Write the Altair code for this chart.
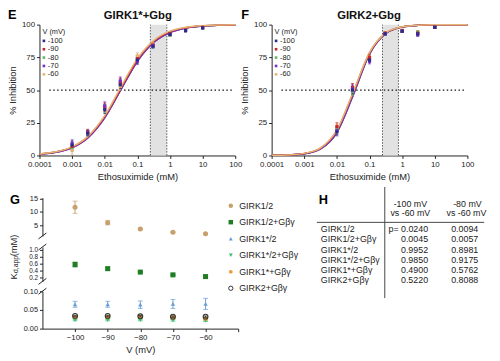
import altair as alt
import pandas as pd

W, H = 492, 353
FONT = "Liberation Sans"
INK = "#222222"

# ---------------- panels E / F data ----------------
volts = ["-100", "-90", "-80", "-70", "-60"]
volt_colors = ["#2b2b8c", "#c9252b", "#62b562", "#7a30c6", "#e5b476"]

conc_E = [0.001, 0.003, 0.01, 0.03, 0.1, 0.3, 1, 3, 10]
E_m100 = [8, 17, 35, 54, 73, 83.5, 92.5, 95.5, 97.5]
E_m90 = [7, 18, 37, 56, 74, 84.5, 93, 96, 98]
E_m80 = [6, 17, 36, 55, 74, 84, 92, 95.5, 97.5]
E_m70 = [9, 17.5, 38, 57, 72, 84, 92.5, 95.5, 97.5]
E_m60 = [4, 17, 36, 53, 76, 85, 92.5, 96, 98]
E_err = [3, 2, 3, 3, 2.5, 1.5, 1, 1, 0.5]

conc_F = [0.01, 0.03, 0.1, 0.3, 1, 3, 10]
F_m100 = [18, 50, 73, 93, 95, 93, 98]
F_m90 = [22, 52, 75, 93.5, 95.5, 93.5, 98]
F_m80 = [20, 49, 74, 93, 95, 94, 98]
F_m70 = [19, 51, 72, 93, 95, 92.5, 98]
F_m60 = [21, 50, 75, 93.5, 95.5, 94, 98]
F_err = [3, 3, 2, 1, 1, 1.5, 0.5]

curve_x = [1e-4, 3.16e-4, 1e-3, 3.16e-3, 0.01, 0.0316, 0.1, 0.316, 1, 3.16, 10, 31.6, 100]
E_fit_m100 = [1.0, 2.5, 6.0, 14.0, 29.0, 50.5, 72.0, 86.5, 94.0, 97.5, 99.0, 99.6, 99.8]
E_fit_m90 = [1.1, 2.7, 6.4, 14.6, 29.8, 51.5, 73.0, 87.3, 94.6, 97.8, 99.1, 99.6, 99.8]
E_fit_m80 = [1.0, 2.6, 6.2, 14.2, 29.3, 51.0, 72.4, 86.8, 94.3, 97.6, 99.0, 99.6, 99.8]
E_fit_m70 = [0.9, 2.4, 5.9, 13.8, 28.8, 50.5, 72.0, 86.4, 94.0, 97.5, 98.9, 99.5, 99.8]
E_fit_m60 = [1.2, 2.8, 6.6, 15.0, 30.5, 52.5, 74.0, 87.8, 95.0, 98.0, 99.2, 99.7, 99.9]

F_fit_m100 = [0.1, 0.3, 1.3, 5.0, 17.5, 46.0, 77.5, 93.2, 98.2, 99.5, 99.9, 100, 100]
F_fit_m90 = [0.1, 0.4, 1.5, 5.6, 19.0, 48.0, 78.5, 93.5, 98.3, 99.5, 99.9, 100, 100]
F_fit_m80 = [0.1, 0.35, 1.4, 5.3, 18.2, 46.9, 77.9, 93.3, 98.2, 99.5, 99.9, 100, 100]
F_fit_m70 = [0.1, 0.33, 1.35, 5.1, 17.8, 46.5, 77.6, 93.2, 98.2, 99.5, 99.9, 100, 100]
F_fit_m60 = [0.12, 0.4, 1.6, 5.8, 19.5, 48.5, 78.8, 93.7, 98.4, 99.6, 99.9, 100, 100]

shade_E = [0.25, 0.8]
shade_F = [0.25, 0.77]
x_ticks_EF = [1e-4, 1e-3, 0.01, 0.1, 1, 10, 100]
y_ticks_EF = [0, 25, 50, 75, 100]

# ---------------- panel G data ----------------
g_volts = [-100, -90, -80, -70, -60]
g_names = ["GIRK1/2", "GIRK1/2+Gβγ", "GIRK1*/2", "GIRK1*/2+Gβγ", "GIRK1*+Gβγ", "GIRK2+Gβγ"]
kd_GIRK12 = [11.8, 6.0, 3.6, 2.4, 1.8]
kd_GIRK12_err = [2.3, 0.8, 0.3, 0.15, 0.15]
kd_GIRK12_G = [0.57, 0.45, 0.35, 0.27, 0.22]
kd_GIRK12_G_err = [0.07, 0.04, 0.02, 0.02, 0.02]
kd_GIRK1s2 = [0.065, 0.065, 0.064, 0.066, 0.066]
kd_GIRK1s2_err = [0.008, 0.008, 0.010, 0.012, 0.015]
kd_GIRK1s2_G = [0.023, 0.023, 0.023, 0.022, 0.021]
kd_GIRK1s2_G_err = [0.002, 0.002, 0.002, 0.002, 0.002]
kd_GIRK1s_G = [0.031, 0.031, 0.031, 0.030, 0.027]
kd_GIRK1s_G_err = [0.004, 0.004, 0.004, 0.004, 0.004]
kd_GIRK2_G = [0.034, 0.034, 0.033, 0.032, 0.032]
kd_GIRK2_G_err = [0.002, 0.002, 0.002, 0.002, 0.002]

# ---------------- panel H data ----------------
p_100_vs_60 = ["0.0240", "0.0045", "0.9952", "0.9850", "0.4900", "0.5220"]
p_80_vs_60 = ["0.0094", "0.0057", "0.8981", "0.9175", "0.5762", "0.8088"]

# ---------------- helpers ----------------
AX = dict(grid=False, tickSize=3, titleFontSize=9.5, titleFontWeight="normal",
          labelFont=FONT, titleFont=FONT, domainColor=INK, tickColor=INK, labelColor=INK,
          titleColor=INK, labelPadding=2, labelOverlap=False)


def txt(s, x, y, size=9, weight="normal", align="left", angle=0, color=INK):
    return alt.Chart(pd.DataFrame({"t": [s]})).mark_text(
        font=FONT, fontSize=size, fontWeight=weight, align=align, baseline="middle",
        angle=angle, color=color).encode(x=alt.value(x), y=alt.value(y), text="t:N")


EF_Y = [147, 14]


def ef_panel(X, conc, means, err, fits, shade, title, title_x, leg_x):
    xsc = alt.Scale(type="log", domain=[1e-4, 100], range=X, nice=False)
    ysc = alt.Scale(domain=[0, 100], range=EF_Y, nice=False, zero=False)
    col = alt.Color("v:N", scale=alt.Scale(domain=volts, range=volt_colors), legend=None)
    xax = alt.Axis(orient="bottom", offset=EF_Y[0] - H, values=x_ticks_EF,
                   labelExpr="format(datum.value, '~g')", title="Ethosuximide (mM)",
                   labelFlush=False, titlePadding=3, labelFontSize=8, **AX)
    yax = alt.Axis(orient="left", offset=-X[0], values=y_ticks_EF, title="% Inhibition",
                   titlePadding=4, labelFontSize=8, **AX)
    L = []
    sdf = pd.DataFrame({"a": [shade[0]], "b": [shade[1]], "y0": [0], "y1": [100]})
    L.append(alt.Chart(sdf).mark_rect(color="#e2e2e2").encode(
        x=alt.X("a:Q", scale=xsc, axis=xax), x2="b:Q",
        y=alt.Y("y0:Q", scale=ysc, axis=yax), y2="y1:Q"))
    vdf = pd.DataFrame({"a": shade, "y0": [0, 0], "y1": [100, 100]})
    L.append(alt.Chart(vdf).mark_rule(color="#555555", strokeDash=[1.5, 1.5], strokeWidth=1).encode(
        x=alt.X("a:Q", scale=xsc, axis=None), y=alt.Y("y0:Q", scale=ysc, axis=None), y2="y1:Q"))
    hdf = pd.DataFrame({"a": [0.0002], "b": [85], "y": [50]})
    L.append(alt.Chart(hdf).mark_rule(color="#111111", strokeDash=[1.5, 2.5], strokeWidth=1.3).encode(
        x=alt.X("a:Q", scale=xsc, axis=None), x2="b:Q", y=alt.Y("y:Q", scale=ysc, axis=None)))
    order = [0, 2, 3, 1, 4]
    crows = []
    for k, i in enumerate(order):
        for c, val in zip(curve_x, fits[i]):
            crows.append({"v": volts[i], "c": c, "m": val, "o": k})
    cdf = pd.DataFrame(crows)
    L.append(alt.Chart(cdf).mark_line(interpolate="monotone", strokeWidth=1.5).encode(
        x=alt.X("c:Q", scale=xsc, axis=None), y=alt.Y("m:Q", scale=ysc, axis=None),
        color=col, detail="v:N"))
    prow = []
    crow = []
    for i in [4, 2, 1, 3, 0]:
        for c, m, e in zip(conc, means[i], err):
            prow.append({"v": volts[i], "c": c, "m": m, "lo": m - e, "hi": m + e})
            crow.append({"v": volts[i], "c": c, "y": m - e})
            crow.append({"v": volts[i], "c": c, "y": m + e})
    pdf = pd.DataFrame(prow)
    capdf = pd.DataFrame(crow)
    L.append(alt.Chart(pdf).mark_rule(strokeWidth=1).encode(
        x=alt.X("c:Q", scale=xsc, axis=None), y=alt.Y("lo:Q", scale=ysc, axis=None), y2="hi:Q",
        color=col))
    L.append(alt.Chart(capdf).mark_tick(orient="horizontal", size=3, thickness=1).encode(
        x=alt.X("c:Q", scale=xsc, axis=None), y=alt.Y("y:Q", scale=ysc, axis=None), color=col))
    L.append(alt.Chart(pdf).mark_square(size=10, opacity=1).encode(
        x=alt.X("c:Q", scale=xsc, axis=None), y=alt.Y("m:Q", scale=ysc, axis=None), color=col))
    L.append(txt(title, title_x, 5, size=11.5, weight="bold", align="center", color="#111"))
    ldf = pd.DataFrame({"v": volts, "i": list(range(len(volts)))})
    lsc = alt.Scale(domain=[0, 4], range=[30.5, 64.5])
    L.append(txt("V (mV)", leg_x, 22, size=7.5))
    L.append(alt.Chart(ldf).mark_square(size=7, opacity=1).encode(
        x=alt.value(leg_x + 1.5), y=alt.Y("i:Q", scale=lsc, axis=None), color=col))
    L.append(alt.Chart(ldf).mark_text(font=FONT, fontSize=7.5, align="left", baseline="middle",
                                      color=INK).encode(
        x=alt.value(leg_x + 5.5), y=alt.Y("i:Q", scale=lsc, axis=None), text="v:N"))
    return L


layers = []
layers += ef_panel([32, 231], conc_E, [E_m100, E_m90, E_m80, E_m70, E_m60], E_err,
                   [E_fit_m100, E_fit_m90, E_fit_m80, E_fit_m70, E_fit_m60], shade_E,
                   "GIRK1*+Gbg", 132, 35)
layers += ef_panel([268, 467], conc_F, [F_m100, F_m90, F_m80, F_m70, F_m60], F_err,
                   [F_fit_m100, F_fit_m90, F_fit_m80, F_fit_m70, F_fit_m60], shade_F,
                   "GIRK2+Gbg", 367, 271)

# ---------------- panel G ----------------
gx_range = [35, 234]
segs = {
    "top": dict(domain=[1, 15.4], range=[228.8, 189.9], values=[5, 10, 15], fmt="d", slash=1.1, fs=7.5),
    "mid": dict(domain=[0.08, 1.08], range=[275, 240], values=[0.2, 0.4, 0.6, 0.8, 1.0], fmt=".1f", slash=0.086, fs=6.5),
    "bot": dict(domain=[0, 0.1], range=[323, 285], values=[0, 0.05, 0.1], fmt=".2f", slash=0.008, fs=7.5),
}
g_series = [
    ("GIRK1/2", kd_GIRK12, kd_GIRK12_err),
    ("GIRK1/2+Gβγ", kd_GIRK12_G, kd_GIRK12_G_err),
    ("GIRK1*/2+Gβγ", kd_GIRK1s2_G, kd_GIRK1s2_G_err),
    ("GIRK1*+Gβγ", kd_GIRK1s_G, kd_GIRK1s_G_err),
    ("GIRK2+Gβγ", kd_GIRK2_G, kd_GIRK2_G_err),
    ("GIRK1*/2", kd_GIRK1s2, kd_GIRK1s2_err),
]
g_style = {
    "GIRK1/2": dict(shape="circle", color="#c8a06e", filled=True, size=26, seg="top"),
    "GIRK1/2+Gβγ": dict(shape="square", color="#1f7d24", filled=True, size=26, seg="mid"),
    "GIRK1*/2": dict(shape="triangle-up", color="#6a9fd6", filled=True, size=20, seg="bot"),
    "GIRK1*/2+Gβγ": dict(shape="triangle-down", color="#3cbf7a", filled=True, size=20, seg="bot"),
    "GIRK1*+Gβγ": dict(shape="circle", color="#f0982c", filled=True, size=18, seg="bot"),
    "GIRK2+Gβγ": dict(shape="circle", color="#333333", filled=False, size=24, seg="bot"),
}

gxs = alt.Scale(domain=[-110, -50], range=gx_range, nice=False, zero=False)


def gys(s):
    return alt.Scale(domain=segs[s]["domain"], range=segs[s]["range"], nice=False, zero=False)


for s in ["top", "mid", "bot"]:
    d = segs[s]
    yax = alt.Axis(orient="left", offset=-gx_range[0], values=d["values"], format=d["fmt"],
                   title=None, labelFontSize=d["fs"], **AX)
    if s == "bot":
        xax = alt.Axis(orient="bottom", offset=segs["bot"]["range"][0] - H,
                       values=[-100, -90, -80, -70, -60, -50],
                       labelExpr="datum.value == -50 ? '' : datum.label", title="V (mV)",
                       labelFlush=False, titlePadding=3, labelFontSize=8, **AX)
    else:
        xax = None
    adf = pd.DataFrame({"x": [-110], "y": [d["domain"][0]]})
    layers.append(alt.Chart(adf).mark_point(opacity=0).encode(
        x=alt.X("x:Q", scale=gxs, axis=xax), y=alt.Y("y:Q", scale=gys(s), axis=yax)))

brk = [("top", segs["top"]["domain"][0]), ("mid", segs["mid"]["domain"][1]),
       ("mid", segs["mid"]["domain"][0]), ("bot", segs["bot"]["domain"][1])]
for s, v in brk:
    h = segs[s]["slash"]
    bdf = pd.DataFrame({"x": [-111.2], "x2": [-108.8], "y": [v - h], "y2": [v + h]})
    layers.append(alt.Chart(bdf).mark_rule(color=INK, strokeWidth=1).encode(
        x=alt.X("x:Q", scale=gxs, axis=None), x2="x2:Q",
        y=alt.Y("y:Q", scale=gys(s), axis=None), y2="y2:Q"))

for name, vals, errs in g_series:
    st = g_style[name]
    ysc = gys(st["seg"])
    df = pd.DataFrame({"v": g_volts, "m": vals, "lo": [m - e for m, e in zip(vals, errs)],
                       "hi": [m + e for m, e in zip(vals, errs)]})
    cap = pd.DataFrame({"v": g_volts * 2, "y": list(df["lo"]) + list(df["hi"])})
    layers.append(alt.Chart(df).mark_rule(color=st["color"], strokeWidth=1).encode(
        x=alt.X("v:Q", scale=gxs, axis=None), y=alt.Y("lo:Q", scale=ysc, axis=None), y2="hi:Q"))
    layers.append(alt.Chart(cap).mark_tick(orient="horizontal", size=5, thickness=1,
                                           color=st["color"]).encode(
        x=alt.X("v:Q", scale=gxs, axis=None), y=alt.Y("y:Q", scale=ysc, axis=None)))
    layers.append(alt.Chart(df).mark_point(shape=st["shape"], size=st["size"], filled=st["filled"],
                                           color=st["color"], opacity=1, strokeWidth=1.1).encode(
        x=alt.X("v:Q", scale=gxs, axis=None), y=alt.Y("m:Q", scale=ysc, axis=None)))

# G y title: K_d,app (mM)
layers.append(txt("K", 6, 273, size=9.5, angle=270))
layers.append(txt("d,app", 8.5, 266.5, size=7, angle=270))
layers.append(txt(" (mM)", 6, 249.5, size=9.5, angle=270))

# G legend
gl_sc = alt.Scale(domain=[0, 5], range=[198, 282])
for i, name in enumerate(g_names):
    st = g_style[name]
    ldf = pd.DataFrame({"i": [i], "t": [name]})
    layers.append(alt.Chart(ldf).mark_point(shape=st["shape"], size=st["size"] * 0.8,
                                            filled=st["filled"], color=st["color"], opacity=1,
                                            strokeWidth=1).encode(
        x=alt.value(226.5), y=alt.Y("i:Q", scale=gl_sc, axis=None)))
    layers.append(alt.Chart(ldf).mark_text(font=FONT, fontSize=9, align="left", baseline="middle",
                                           color=INK).encode(
        x=alt.value(235), y=alt.Y("i:Q", scale=gl_sc, axis=None), text="t:N"))

# ---------------- panel H table ----------------
tdf = pd.DataFrame({
    "i": list(range(len(g_names))),
    "name": g_names,
    "c1": [("p= " if i == 0 else "") + p for i, p in enumerate(p_100_vs_60)],
    "c2": p_80_vs_60,
})
t_sc = alt.Scale(domain=[0, 5], range=[222, 273.7])
layers.append(alt.Chart(tdf).mark_text(font=FONT, fontSize=9, align="left", baseline="middle",
                                       color=INK).encode(
    x=alt.value(318), y=alt.Y("i:Q", scale=t_sc, axis=None), text="name:N"))
layers.append(alt.Chart(tdf).mark_text(font=FONT, fontSize=9, align="right", baseline="middle",
                                       color=INK).encode(
    x=alt.value(427), y=alt.Y("i:Q", scale=t_sc, axis=None), text="c1:N"))
layers.append(alt.Chart(tdf).mark_text(font=FONT, fontSize=9, align="right", baseline="middle",
                                       color=INK).encode(
    x=alt.value(478), y=alt.Y("i:Q", scale=t_sc, axis=None), text="c2:N"))
layers.append(txt("-100 mV", 409, 196.3, align="center"))
layers.append(txt("vs -60 mV", 409, 205.3, align="center"))
layers.append(txt("-80 mV", 467, 196.3, align="center"))
layers.append(txt("vs -60 mV", 466, 205.3, align="center"))
layers.append(alt.Chart(pd.DataFrame({"a": [0]})).mark_rule(color="#444", strokeWidth=1).encode(
    x=alt.value(314), x2=alt.value(484), y=alt.value(215)))
layers.append(alt.Chart(pd.DataFrame({"a": [0]})).mark_rule(color="#444", strokeWidth=1).encode(
    x=alt.value(383), y=alt.value(179), y2=alt.value(292)))

# panel letters
layers.append(txt("E", 0, 4, size=13, weight="bold", color="#000"))
layers.append(txt("F", 237, 4, size=13, weight="bold", color="#000"))
layers.append(txt("G", 2, 192, size=13, weight="bold", color="#000"))
layers.append(txt("H", 316, 192, size=13, weight="bold", color="#000"))

chart = alt.layer(*layers).resolve_scale(
    x="independent", y="independent", color="independent"
).properties(
    width=W, height=H, autosize=alt.AutoSizeParams(type="none"), padding=0, background="white"
).configure_view(stroke=None)

chart.save("out.html", embed_options={"renderer": "svg", "actions": False})
